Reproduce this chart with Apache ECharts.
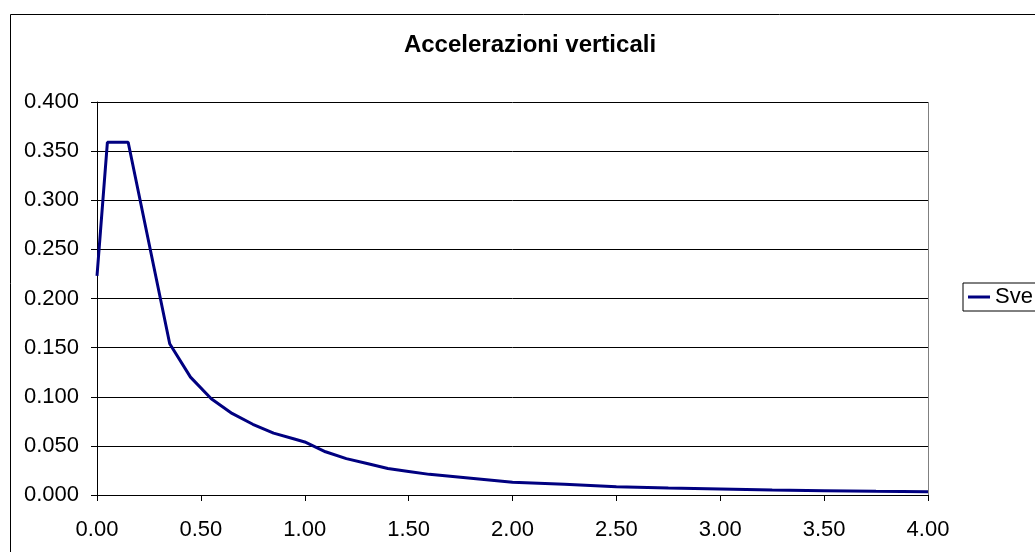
<!DOCTYPE html>
<html>
<head>
<meta charset="utf-8">
<script src="https://cdn.jsdelivr.net/npm/echarts@6/dist/echarts.min.js"></script>
<style>
html,body{margin:0;padding:0;background:#fff;}
#c{width:1035px;height:552px;}
</style>
</head>
<body>
<div id="c"></div>
<script>
const chartTitle = "Accelerazioni verticali";
const seriesName = "Sve";
const periods = [0, 0.05, 0.15, 0.35, 0.45, 0.55, 0.65, 0.75, 0.85, 0.95, 1.0, 1.1, 1.2, 1.3, 1.4, 1.5, 1.6, 1.7, 1.8, 1.9, 2.0, 2.25, 2.5, 2.75, 3.0, 3.25, 3.5, 3.75, 4.0];
const accel = [0.223, 0.359, 0.359, 0.154, 0.120, 0.098, 0.083, 0.072, 0.063, 0.057, 0.054, 0.044, 0.037, 0.032, 0.027, 0.024, 0.021, 0.019, 0.017, 0.015, 0.013, 0.011, 0.0085, 0.007, 0.006, 0.005, 0.0044, 0.0038, 0.0034];

const font = "'Liberation Sans', Arial, sans-serif";
const chart = echarts.init(document.getElementById('c'), null, {renderer: 'canvas'});
chart.setOption({
  animation: false,
  backgroundColor: '#fff',
  textStyle: {fontFamily: font},
  title: {
    text: chartTitle,
    left: 530, top: 33, textAlign: 'center', padding: 0,
    textStyle: {fontFamily: font, fontSize: 24, fontWeight: 'bold', color: '#000'}
  },
  graphic: [{
    type: 'rect', left: 8, top: 12, z: -1,
    shape: {width: 1100, height: 600},
    style: {fill: 'none', stroke: '#000', lineWidth: 1}
  }, {
    type: 'line', z: 5,
    shape: {x1: 928.5, y1: 102, x2: 928.5, y2: 495},
    style: {stroke: '#808080', lineWidth: 1}
  }],
  legend: {
    left: 963, top: 283,
    orient: 'vertical',
    padding: [3, 80, 3, 5],
    borderColor: '#000', borderWidth: 1,
    backgroundColor: '#fff',
    itemWidth: 22, itemHeight: 3, itemGap: 0,
    icon: 'rect',
    textStyle: {fontFamily: font, fontSize: 22, color: '#000'},
    data: [seriesName]
  },
  grid: {left: 97, right: 107, top: 102, bottom: 57, containLabel: false},
  xAxis: {
    type: 'value', min: 0, max: 4, interval: 0.5,
    axisLine: {show: true, onZero: false, lineStyle: {color: '#000', width: 1}},
    axisTick: {show: true, length: 6, lineStyle: {color: '#000'}},
    splitLine: {show: false},
    axisLabel: {fontFamily: font, fontSize: 22, color: '#000', margin: 24,
      formatter: v => v.toFixed(2)}
  },
  yAxis: {
    type: 'value', min: 0, max: 0.4, interval: 0.05,
    axisLine: {show: true, lineStyle: {color: '#000', width: 1}},
    axisTick: {show: true, length: 6, lineStyle: {color: '#000'}},
    splitLine: {show: true, lineStyle: {color: '#000', width: 1}},
    axisLabel: {fontFamily: font, fontSize: 22, color: '#000', margin: 18,
      formatter: v => v.toFixed(3)}
  },
  series: [{
    name: seriesName,
    type: 'line',
    data: periods.map((p, i) => [p, accel[i]]),
    showSymbol: false,
    symbol: 'none',
    lineStyle: {color: '#000080', width: 3},
    itemStyle: {color: '#000080'}
  }]
});
</script>
</body>
</html>
